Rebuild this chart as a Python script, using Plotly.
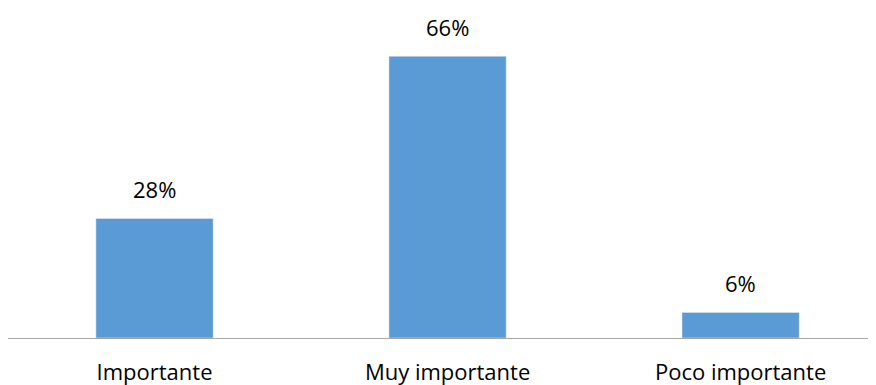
import plotly.graph_objects as go

categories = ["Importante", "Muy importante", "Poco importante"]
values = [28, 66, 6]
labels = ["28%", "66%", "6%"]

xs = list(range(len(categories)))
font_family = "'Open Sans', 'Noto Sans', sans-serif"

fig = go.Figure(go.Bar(
    x=xs, y=values, width=0.4, marker_color="#5B9BD5",
    hoverinfo="skip",
))

for x, v, t in zip(xs, values, labels):
    fig.add_annotation(x=x, y=v, text=t, showarrow=False, yanchor="bottom",
                       yshift=12, font=dict(size=22, color="#000000", family=font_family))

fig.update_layout(
    width=868, height=377,
    margin=dict(l=0, r=0, t=0, b=47),
    plot_bgcolor="white", paper_bgcolor="white",
    showlegend=False,
    font=dict(family=font_family, size=22, color="#000000"),
    xaxis=dict(range=[-0.5, 2.462], tickvals=xs, ticktext=categories,
               showline=True, linecolor="#A6A6A6", linewidth=1,
               showgrid=False, zeroline=False,
               ticks="outside", ticklen=15, tickcolor="rgba(0,0,0,0)",
               tickfont=dict(size=22, color="#000000")),
    yaxis=dict(range=[0, 77.3], visible=False, showgrid=False, zeroline=False),
)

fig.write_html("out.html")
